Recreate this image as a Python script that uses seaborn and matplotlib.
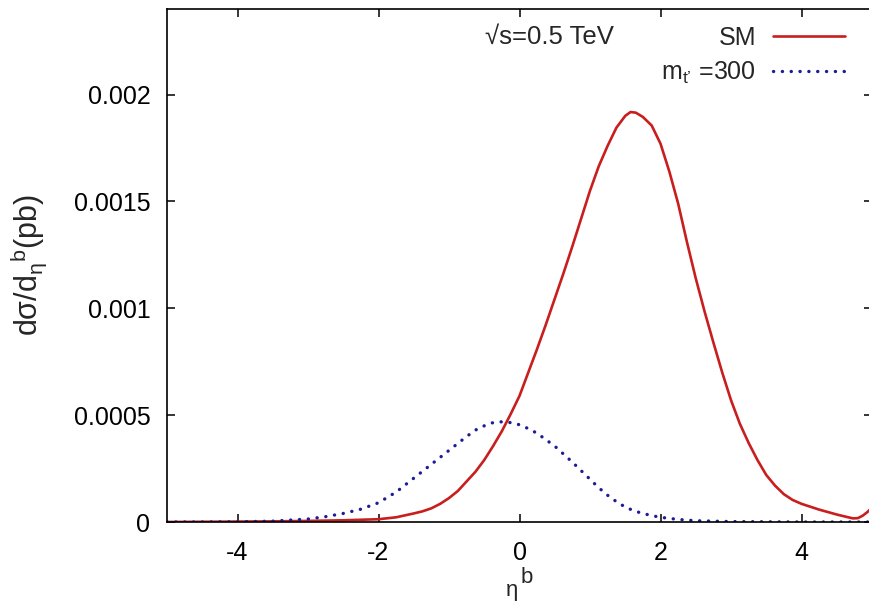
import numpy as np
import pandas as pd
import matplotlib
matplotlib.use("Agg")
import matplotlib.pyplot as plt
import seaborn as sns

# ---- data ----
eta_sm = [-5.0, -4.5, -4.0, -3.5, -3.0, -2.5, -2.0, -1.75, -1.5, -1.375, -1.25, -1.125,
          -1.0, -0.875, -0.75, -0.625, -0.5, -0.375, -0.25, -0.125, 0.0, 0.125, 0.25,
          0.375, 0.5, 0.625, 0.75, 0.875, 1.0, 1.125, 1.25, 1.375, 1.5, 1.575, 1.65,
          1.75, 1.875, 2.0, 2.125, 2.25, 2.375, 2.5, 2.625, 2.75, 2.875, 3.0, 3.125,
          3.25, 3.375, 3.5, 3.625, 3.75, 3.875, 4.0, 4.25, 4.5, 4.625, 4.73, 4.8,
          4.87, 4.94, 5.0]
sm_vals = [0.0, 0.001, 0.002, 0.003, 0.005, 0.008, 0.013, 0.022, 0.040, 0.050, 0.064, 0.085,
           0.112, 0.145, 0.19, 0.235, 0.29, 0.355, 0.425, 0.505, 0.59, 0.70, 0.81,
           0.925, 1.045, 1.165, 1.29, 1.42, 1.55, 1.665, 1.76, 1.845, 1.90, 1.918, 1.915,
           1.895, 1.855, 1.77, 1.64, 1.49, 1.31, 1.14, 0.985, 0.84, 0.70, 0.57, 0.46,
           0.37, 0.29, 0.22, 0.17, 0.13, 0.103, 0.085, 0.058, 0.035, 0.025, 0.017, 0.018,
           0.030, 0.048, 0.068]

eta_tp = [-5.0, -4.5, -4.0, -3.5, -3.2, -3.0, -2.75, -2.5, -2.25, -2.0, -1.75, -1.5,
          -1.25, -1.0, -0.75, -0.625, -0.5, -0.375, -0.28, -0.125, 0.0, 0.125, 0.25,
          0.5, 0.75, 1.0, 1.125, 1.25, 1.375, 1.5, 1.625, 1.75, 1.875, 2.0, 2.25, 2.5,
          3.0, 3.5, 4.0, 4.5, 5.0]
tp_vals = [0.0, 0.0, 0.001, 0.004, 0.010, 0.014, 0.025, 0.040, 0.060, 0.090, 0.140, 0.205,
           0.27, 0.335, 0.40, 0.43, 0.45, 0.465, 0.469, 0.465, 0.455, 0.437, 0.415,
           0.355, 0.28, 0.20, 0.16, 0.125, 0.095, 0.07, 0.052, 0.04, 0.03, 0.022, 0.012,
           0.006, 0.002, 0.001, 0.0, 0.0, 0.0]

xticks = [-4, -2, 0, 2, 4]
yticks = [0, 0.0005, 0.001, 0.0015, 0.002]
ytick_labels = ["0", "0.0005", "0.001", "0.0015", "0.002"]

sm_label = "SM"
tp_label = "m$_{\\mathrm{t\u2019}}$ =300"
energy_text = "\u221as=0.5 TeV"
xlabel_main = "\u03b7"
xlabel_sup = "b"
ylabel_text = r"d$\sigma$/d$_{\eta}$$^{b}$(pb)"

# ---- style ----
sns.set_style("ticks")
plt.rcParams["font.family"] = ["Liberation Sans", "DejaVu Sans"]
plt.rcParams["mathtext.fontset"] = "custom"
plt.rcParams["mathtext.rm"] = "Liberation Sans"
plt.rcParams["mathtext.it"] = "Liberation Sans"
plt.rcParams["mathtext.bf"] = "Liberation Sans:bold"

red = "#c81e1e"
blue = "#1c1c9a"

W, H = 869, 610
fig = plt.figure(figsize=(W / 100, H / 100), dpi=100)
ax_l, ax_r, ax_t, ax_b = 167, 872, 9, 522
ax = fig.add_axes([ax_l / W, (H - ax_b) / H, (ax_r - ax_l) / W, (ax_b - ax_t) / H])

df_sm = pd.DataFrame({"eta": eta_sm, "val": np.array(sm_vals) * 1e-3})
df_tp = pd.DataFrame({"eta": eta_tp, "val": np.array(tp_vals) * 1e-3})

sns.lineplot(data=df_sm, x="eta", y="val", ax=ax, color=red, lw=1.9, label=sm_label)
sns.lineplot(data=df_tp, x="eta", y="val", ax=ax, color=blue, lw=2.4,
             linestyle=(0, (0.05, 2.6)), dash_capstyle="round", label=tp_label)

ax.set_xlim(-5, 5)
ax.set_ylim(0, 0.0024)
ax.set_xticks(xticks)
ax.set_xticklabels([str(t) for t in xticks])
ax.set_yticks(yticks)
ax.set_yticklabels(ytick_labels)
ax.tick_params(direction="in", length=6, width=1.1, top=True, right=True,
               labelsize=18, colors="black")
ax.tick_params(axis="x", pad=14)
ax.tick_params(axis="y", pad=12)
for sp in ax.spines.values():
    sp.set_visible(True)
    sp.set_linewidth(1.2)
    sp.set_color("black")

def ax_x(px):
    return (px - ax_l) / (ax_r - ax_l)

def ax_y(py):
    return (ax_b - py) / (ax_b - ax_t)

# x label: eta with a raised b (gnuplot style)
ax.set_xlabel(xlabel_main, fontsize=16)
ax.xaxis.label.set_va("baseline")
ax.xaxis.label.set_ha("center")
ax.xaxis.set_label_coords(ax_x(512), ax_y(596))
ax.text(ax_x(527), ax_y(583), xlabel_sup, transform=ax.transAxes, fontsize=16,
        ha="center", va="baseline")

ax.set_ylabel(ylabel_text, fontsize=22, labelpad=18)

ax.text(ax_x(485), ax_y(37), energy_text, transform=ax.transAxes,
        fontsize=18.5, va="center", ha="left")

leg = ax.legend(loc="upper right", bbox_to_anchor=(1.0, 1.0 + 10 / 513),
                markerfirst=False, frameon=False, fontsize=18,
                handlelength=2.9, handletextpad=0.65, labelspacing=0.38,
                borderaxespad=0.68, borderpad=0.4)
for t in leg.get_texts():
    t.set_ha("right")

fig.savefig("out.png", dpi=100)
